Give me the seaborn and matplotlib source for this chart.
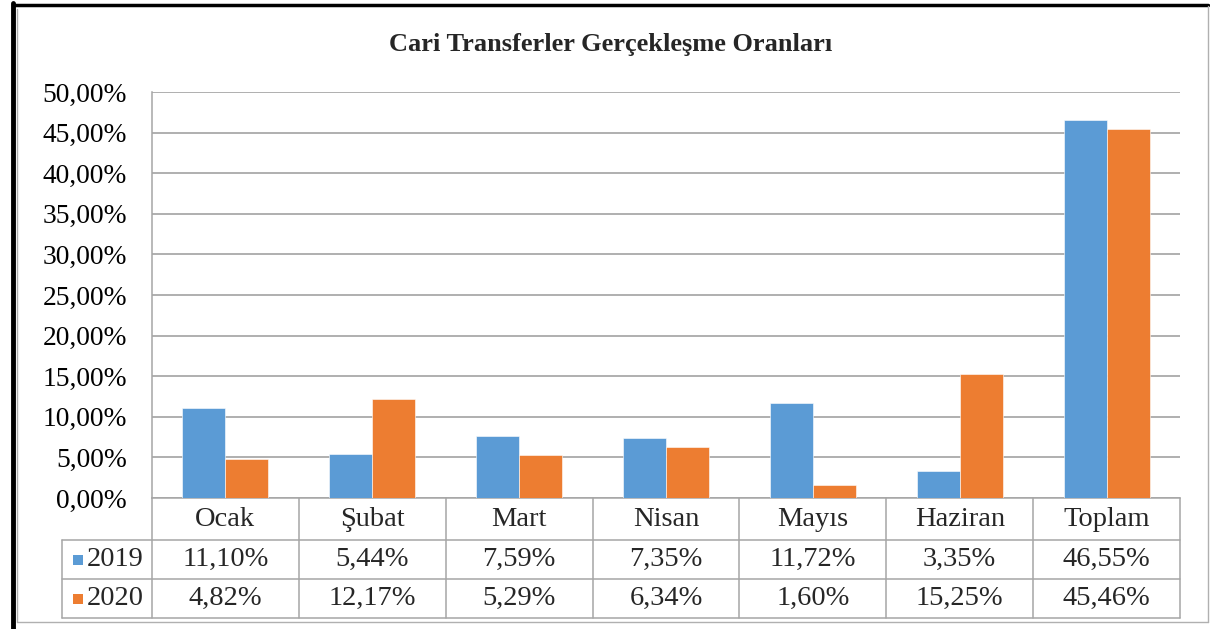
import numpy as np
import pandas as pd
import matplotlib
matplotlib.use('Agg')
import matplotlib.pyplot as plt
import seaborn as sns
from matplotlib.ticker import FuncFormatter
from matplotlib.lines import Line2D
from matplotlib.patches import Rectangle

aylar = ['Ocak', 'Şubat', 'Mart', 'Nisan', 'Mayıs', 'Haziran', 'Toplam']
yillar = ['2019', '2020']
oran_2019 = [11.10, 5.44, 7.59, 7.35, 11.72, 3.35, 46.55]
oran_2020 = [4.82, 12.17, 5.29, 6.34, 1.60, 15.25, 45.46]

renkler = ['#5B9BD5', '#ED7D31']
izgara = '#9a9a9a'
tablo = '#a6a6a6'

df = pd.DataFrame({
    'ay': aylar * 2,
    'yil': [yillar[0]] * len(aylar) + [yillar[1]] * len(aylar),
    'oran': oran_2019 + oran_2020,
})

sns.set_style('white')
plt.rcParams['font.family'] = ['Liberation Serif', 'DejaVu Serif']

fig = plt.figure(figsize=(12.10, 6.29), dpi=100)
W, H = 1210, 629
ax = fig.add_axes([152 / W, 1 - 498 / H, (1180 - 152) / W, (498 - 92) / H])

sns.barplot(data=df, x='ay', y='oran', hue='yil', palette=renkler, saturation=1,
            width=0.585, gap=0, legend=False, ax=ax, zorder=3,
            edgecolor='white', linewidth=0.4)

ax.set_ylim(0, 50)
ax.set_xlim(-0.5, len(aylar) - 0.5)
ax.set_yticks(np.arange(0, 51, 5))
ax.yaxis.set_major_formatter(FuncFormatter(lambda v, p: f'{v:.2f}%'.replace('.', ',')))
ax.tick_params(axis='y', labelsize=19.8, length=0, pad=18, colors='black')
ax.set_xticks([])
ax.set_xlabel('')
ax.set_ylabel('')
ax.grid(axis='y', color=izgara, linewidth=1.1, zorder=0)
for s in ['top', 'right']:
    ax.spines[s].set_visible(False)
ax.spines['left'].set_color(tablo)
ax.spines['bottom'].set_color(tablo)
ax.spines['left'].set_linewidth(1.1)
ax.spines['bottom'].set_linewidth(1.1)

# veri tablosu
trans = ax.get_xaxis_transform()
ah = 498 - 92
r1 = -42 / ah
r2 = -81 / ah
r3 = -120 / ah
x_sol = -0.5 - (152 - 62) / ((1180 - 152) / len(aylar))
fs = 20.5

kw = dict(color=tablo, linewidth=1.1, transform=trans, clip_on=False)
for i in range(len(aylar) + 1):
    ax.add_line(Line2D([i - 0.5, i - 0.5], [0, r3], **kw))
ax.add_line(Line2D([x_sol, x_sol], [r1, r3], **kw))
ax.add_line(Line2D([x_sol, len(aylar) - 0.5], [r1, r1], **kw))
ax.add_line(Line2D([x_sol, len(aylar) - 0.5], [r2, r2], **kw))
ax.add_line(Line2D([x_sol, len(aylar) - 0.5], [r3, r3], **kw))

for i, ay in enumerate(aylar):
    ax.text(i, r1 / 2, ay, ha='center', va='center', fontsize=fs, transform=trans)
    ax.text(i, (r1 + r2) / 2, f'{oran_2019[i]:.2f}%'.replace('.', ','),
            ha='center', va='center', fontsize=fs, transform=trans)
    ax.text(i, (r2 + r3) / 2, f'{oran_2020[i]:.2f}%'.replace('.', ','),
            ha='center', va='center', fontsize=fs, transform=trans)

for yil, renk, ya, yb in [(yillar[0], renkler[0], r1, r2), (yillar[1], renkler[1], r2, r3)]:
    ym = (ya + yb) / 2
    yp = 1 - (498 - ym * ah) / H
    fig.patches.append(Rectangle((73 / W, yp - 5 / H), 10 / W, 10 / H,
                                 facecolor=renk, edgecolor='none',
                                 transform=fig.transFigure))
    fig.text(87 / W, yp, yil, ha='left', va='center', fontsize=fs)

fig.text(611 / W, 1 - 45 / H, 'Cari Transferler Gerçekleşme Oranları',
         ha='center', va='center', fontsize=19, fontweight='bold')

# dış çerçeve
fig.add_artist(Line2D([13 / W, 13 / W], [0, 1 - 3 / H], color='black', linewidth=3.5))
fig.add_artist(Line2D([13 / W, 1208 / W], [1 - 5 / H, 1 - 5 / H], color='black', linewidth=2.5))
fig.add_artist(Line2D([17 / W, 17 / W], [1 - 622 / H, 1 - 9 / H], color='#b0b0b0', linewidth=1))
fig.add_artist(Line2D([17 / W, 1208 / W], [1 - 622 / H, 1 - 622 / H], color='#b0b0b0', linewidth=1))
fig.add_artist(Line2D([1208 / W, 1208 / W], [1 - 622 / H, 1 - 6 / H], color='#b0b0b0', linewidth=1))

fig.savefig('out.png', dpi=100, facecolor='white')
